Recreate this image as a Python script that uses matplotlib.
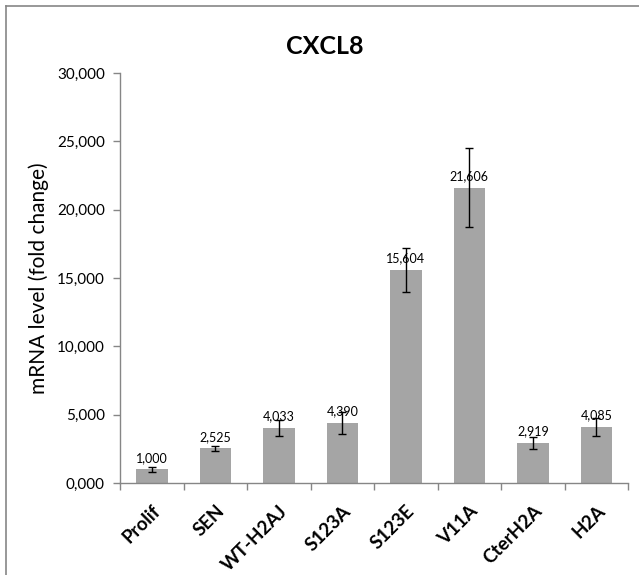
import numpy as np
import matplotlib.pyplot as plt
from matplotlib.lines import Line2D
from matplotlib.ticker import FuncFormatter, FixedLocator

plt.rcParams['font.family'] = ['Lato', 'DejaVu Sans']

# qPCR fold change, normalised to proliferating cells
conditions = ['Prolif', 'SEN', 'WT-H2AJ', 'S123A', 'S123E', 'V11A', 'CterH2A', 'H2A']
fold_change = [1.000, 2.525, 4.033, 4.390, 15.604, 21.606, 2.919, 4.085]
fold_err = [0.20, 0.20, 0.60, 0.80, 1.60, 2.90, 0.45, 0.65]


def comma_fmt(v, pos=None):
    return f'{v:.3f}'.replace('.', ',')


fig = plt.figure(figsize=(6.39, 5.75), dpi=100)
ax = fig.add_axes([0.188, 0.16, 0.795, 0.713])

x = np.arange(len(conditions))
bar_col = '#a5a5a5'
axis_col = '#868686'

ax.bar(x, fold_change, width=0.5, color=bar_col, zorder=2)
ax.errorbar(x, fold_change, yerr=fold_err, fmt='none', ecolor='black',
            elinewidth=1.0, capsize=3, capthick=1.0, zorder=3)

for xi, v in zip(x, fold_change):
    ax.annotate(comma_fmt(v), (xi, v), xytext=(0, 4), textcoords='offset points',
                ha='center', va='bottom', fontsize=9, zorder=4)

ax.set_xlim(-0.5, len(conditions) - 0.5)
ax.set_ylim(0, 30)
ax.set_yticks(np.arange(0, 31, 5))
ax.yaxis.set_major_formatter(FuncFormatter(comma_fmt))

# category labels at bar centres, tick marks between categories
ax.set_xticks(x)
ax.set_xticklabels(conditions, rotation=45, ha='right', rotation_mode='anchor',
                   fontweight='bold', fontsize=13.5)
ax.tick_params(axis='x', which='major', length=0, pad=14)
ax.xaxis.set_minor_locator(FixedLocator(np.arange(-0.5, len(conditions), 1.0)))
ax.tick_params(axis='x', which='minor', length=5, color=axis_col, width=1)
ax.tick_params(axis='y', length=5, color=axis_col, width=1, labelsize=11, pad=6)

for side in ['top', 'right']:
    ax.spines[side].set_visible(False)
for side in ['left', 'bottom']:
    ax.spines[side].set_color(axis_col)
    ax.spines[side].set_linewidth(1)

ax.set_ylabel('mRNA level (fold change)', fontsize=15, labelpad=6)
fig.text(0.508, 1 - 47 / 575, 'CXCL8', ha='center', va='center',
         fontsize=18, fontweight='bold')

# chart area frame
fig.add_artist(Line2D([6 / 639, 6 / 639], [0, 1 - 6 / 575], color=axis_col, lw=1.2))
fig.add_artist(Line2D([6 / 639, 1], [1 - 6 / 575, 1 - 6 / 575], color=axis_col, lw=1.2))

fig.savefig('out.png', dpi=100)
